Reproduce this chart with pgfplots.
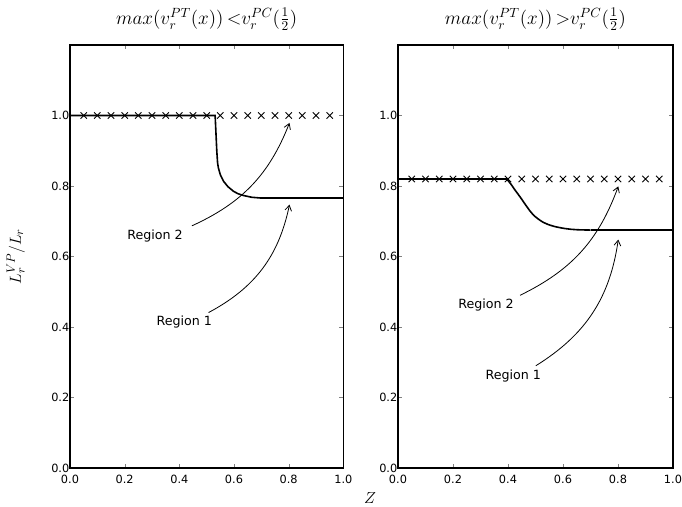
\documentclass[border=0pt]{standalone}
\usepackage[no-math]{fontspec}
\setmainfont{DejaVu Sans}
\usepackage{pgfplots}
\pgfplotsset{compat=1.18}
\usetikzlibrary{arrows.meta}
\begin{document}
\begin{tikzpicture}
\path[use as bounding box] (0pt,0pt) rectangle (511.5pt,380.25pt);
\pgfplotsset{
  every axis/.append style={
    scale only axis, width=205pt, height=317.25pt,
    xmin=0, xmax=1, ymin=0, ymax=1.2,
    xtick={0,0.2,...,1.0}, ytick={0,0.2,0.4,0.6,0.8,1.0},
    tick align=inside, major tick length=3pt,
    /pgf/number format/fixed, /pgf/number format/fixed zerofill, /pgf/number format/precision=1,
    /pgf/number format/assume math mode=true,
    tick label style={font=\fontsize{8.5}{10}\selectfont},
    xticklabel style={yshift=-1.5pt},
    yticklabel style={xshift=3pt},
    axis line style={line width=0.8pt},
    title style={font=\fontsize{14.5}{16}\selectfont, yshift=1pt},
    clip=false,
  },
}
\begin{axis}[at={(52.5pt,29.25pt)}, anchor=south west,
  title={$max(v_r^{PT}(x))\,{<}v_r^{PC}(\frac{1}{2})$},
  ylabel={$L_r^{VP}/L_r$}, ylabel style={font=\fontsize{13}{15}\selectfont, yshift=13pt}]
\addplot[black, line width=1.2pt] coordinates {
(0,1.0) (0.531,1.0) (0.534,0.95) (0.537,0.90) (0.540,0.865) (0.543,0.851) (0.55,0.832) (0.562,0.813) (0.578,0.798) (0.598,0.785) (0.615,0.778) (0.635,0.773) (0.665,0.768) (0.696,0.766) (1.0,0.766)};
\addplot[only marks, mark=x, mark size=3.4pt, black, line width=0.7pt] coordinates {
(0.05,1) (0.10,1) (0.15,1) (0.20,1) (0.25,1) (0.30,1) (0.35,1) (0.40,1) (0.45,1) (0.50,1)
(0.55,1) (0.60,1) (0.65,1) (0.70,1) (0.75,1) (0.80,1) (0.85,1) (0.90,1) (0.95,1)};
\node[font=\fontsize{9.5}{11}\selectfont] at (axis cs:0.311,0.659) {Region 2};
\node[font=\fontsize{9.5}{11}\selectfont] at (axis cs:0.418,0.413) {Region 1};
\draw[-{Straight Barb[length=4pt,width=5pt]}, line width=0.6pt] (axis cs:0.446,0.687) to[bend right=22] (axis cs:0.803,0.979);
\draw[-{Straight Barb[length=4pt,width=5pt]}, line width=0.6pt] (axis cs:0.507,0.441) to[bend right=25] (axis cs:0.803,0.747);
\end{axis}
\begin{axis}[at={(298.5pt,29.25pt)}, anchor=south west, width=206.25pt,
  title={$max(v_r^{PT}(x))\,{>}v_r^{PC}(\frac{1}{2})$}]
\addplot[black, line width=1.2pt] coordinates {(0,0.82) (0.395,0.82)};
\addplot[black, line width=1.2pt, smooth, tension=0.55] coordinates {
(0.395,0.82) (0.41,0.806) (0.425,0.789) (0.444,0.769) (0.468,0.742) (0.492,0.718) (0.528,0.697) (0.565,0.686) (0.61,0.679) (0.65,0.676) (0.7,0.675)};
\addplot[black, line width=1.2pt] coordinates {(0.7,0.675) (1.0,0.675)};
\addplot[only marks, mark=x, mark size=3.4pt, black, line width=0.7pt] coordinates {
(0.05,0.82) (0.10,0.82) (0.15,0.82) (0.20,0.82) (0.25,0.82) (0.30,0.82) (0.35,0.82) (0.40,0.82) (0.45,0.82) (0.50,0.82)
(0.55,0.82) (0.60,0.82) (0.65,0.82) (0.70,0.82) (0.75,0.82) (0.80,0.82) (0.85,0.82) (0.90,0.82) (0.95,0.82)};
\node[font=\fontsize{9.5}{11}\selectfont] at (axis cs:0.32,0.463) {Region 2};
\node[font=\fontsize{9.5}{11}\selectfont] at (axis cs:0.419,0.261) {Region 1};
\draw[-{Straight Barb[length=4pt,width=5pt]}, line width=0.6pt] (axis cs:0.444,0.49) to[bend right=22] (axis cs:0.801,0.799);
\draw[-{Straight Barb[length=4pt,width=5pt]}, line width=0.6pt] (axis cs:0.501,0.29) to[bend right=25] (axis cs:0.801,0.648);
\end{axis}
\node[font=\fontsize{12}{14}\selectfont] at (277.5pt,7pt) {$Z$};
\end{tikzpicture}
\end{document}
